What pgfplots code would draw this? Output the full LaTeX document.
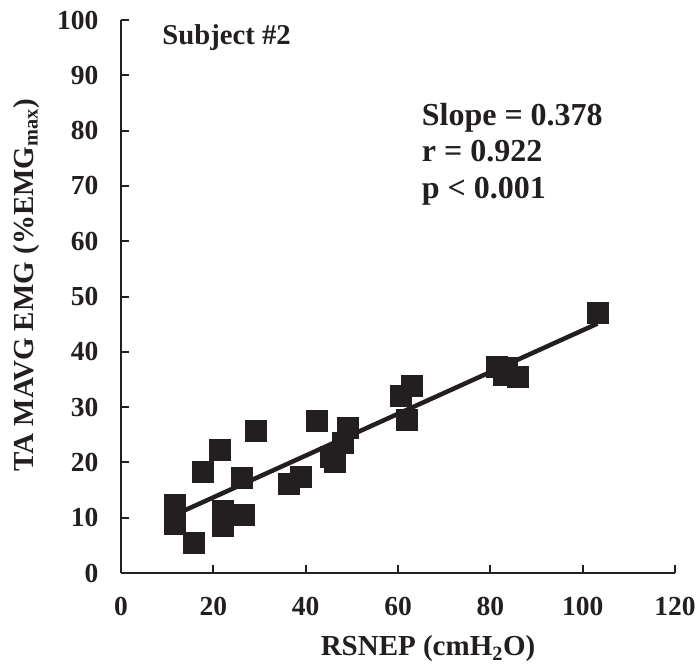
\documentclass[border=0pt]{standalone}
\usepackage{pgfplots}
\pgfplotsset{compat=1.18}
\usepackage{fontspec}
\setmainfont{Liberation Serif}
\definecolor{ink}{HTML}{231F20}
\begin{document}
\begin{tikzpicture}
\path[use as bounding box] (0,0) rectangle (696pt,665pt);
\begin{axis}[
  at={(121pt,92pt)}, anchor=south west,
  scale only axis, width=554pt, height=553pt,
  xmin=0, xmax=120, ymin=0, ymax=100,
  axis x line=bottom, axis y line=left,
  axis line style={-, line width=2.5pt, color=ink},
  xtick={0,20,...,120}, ytick={0,10,...,100},
  tick style={line width=2pt, color=ink},
  major tick length=8pt,
  tick align=inside,
  /pgf/number format/assume math mode=true,
  tick label style={font=\fontsize{27.5}{30}\selectfont\bfseries, color=ink},
  xticklabel style={yshift=-21pt},
  yticklabel style={xshift=-19pt},
  xlabel={RSNEP (cmH\textsubscript{2}O)},
  ylabel={TA MAVG EMG (\%EMG\textsubscript{max})},
  label style={font=\fontsize{29}{32}\selectfont\bfseries, color=ink},
  xlabel style={at={(axis cs:66.5,0)}, anchor=center, yshift=-76pt},
  ylabel style={at={(axis description cs:-0.17,0.52)}, anchor=center},
  clip=false,
]
\addplot[only marks, mark=square*, mark size=10.5pt, color=ink] coordinates {
 (11.6,12.3) (11.6,8.9) (15.7,5.4) (17.6,18.4) (21.3,22.3) (29.1,25.8)
 (26.2,17.2) (22.0,11.3) (22.0,8.6) (26.6,10.5) (36.3,16.1) (39.0,17.5)
 (42.4,27.6) (49.1,26.2) (48.0,23.5) (45.5,21.0) (46.2,20.2)
 (60.6,32.1) (62.9,33.9) (61.8,27.7) (81.4,37.3) (83.5,37.2) (83.0,35.8)
 (86.0,35.5) (103.2,47.0)
};
\addplot[line width=4.5pt, color=ink] coordinates {(11.6,10.5) (103.2,45.1)};
\node[anchor=base west, font=\fontsize{28.7}{30}\selectfont\bfseries, color=ink] at (axis cs:8.2,95.6) {Subject \#2};
\node[anchor=base west, font=\fontsize{32}{34}\selectfont\bfseries, color=ink] at (axis cs:64.4,81.0) {Slope = 0.378};
\node[anchor=base west, font=\fontsize{32}{34}\selectfont\bfseries, color=ink] at (axis cs:64.4,74.4) {r = 0.922};
\node[anchor=base west, font=\fontsize{32}{34}\selectfont\bfseries, color=ink] at (axis cs:64.4,67.8) {p < 0.001};
\end{axis}
\end{tikzpicture}
\end{document}
